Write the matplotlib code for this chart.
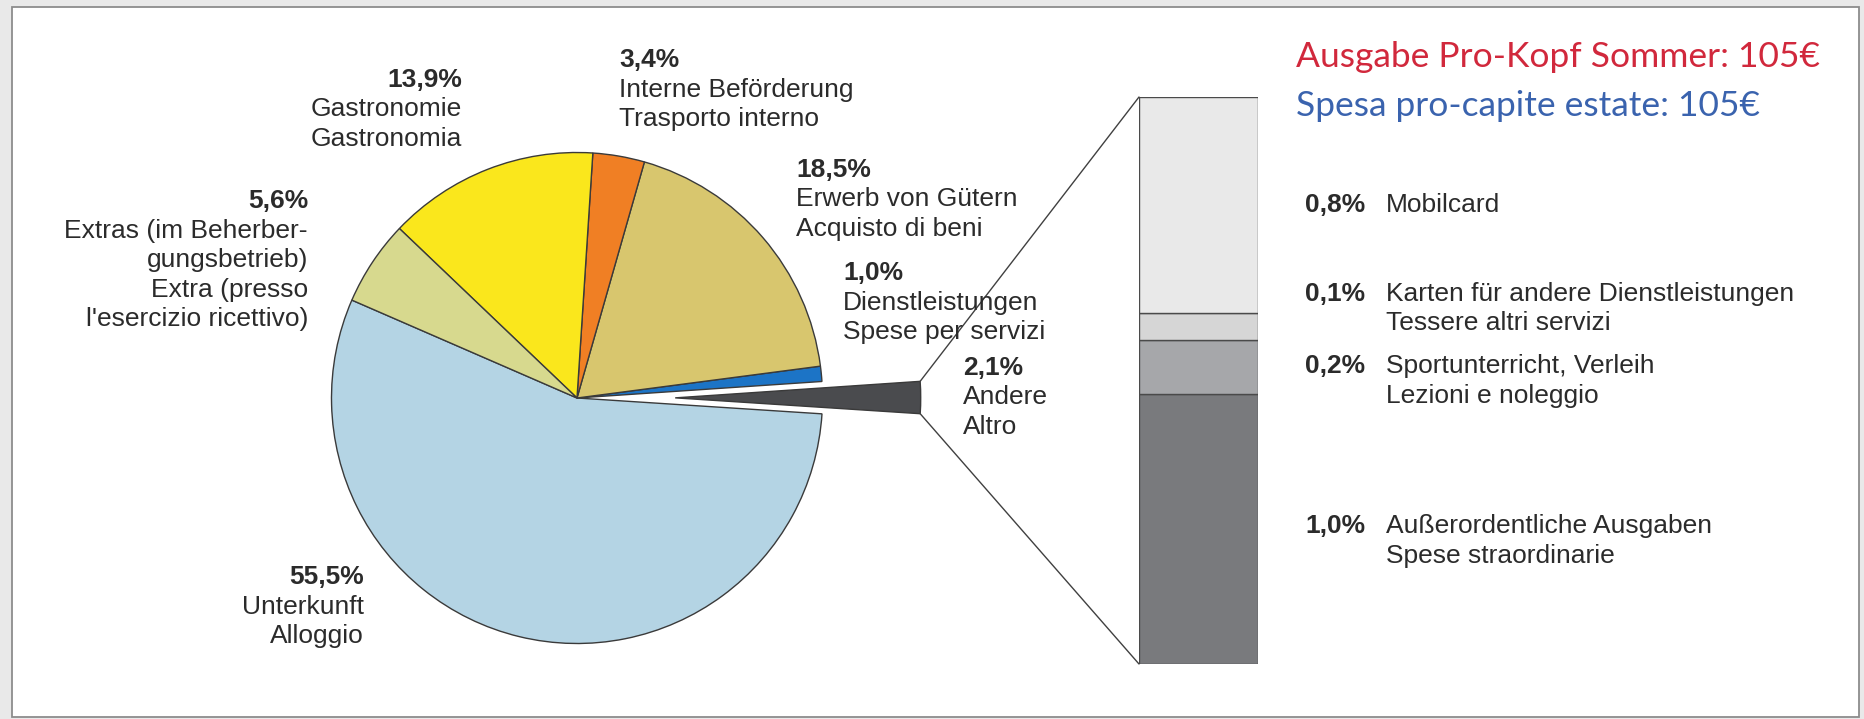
import matplotlib
matplotlib.use("Agg")
import numpy as np
import matplotlib.pyplot as plt
from matplotlib.patches import Rectangle, ConnectionPatch

plt.rcParams["font.family"] = ["Liberation Sans", "DejaVu Sans"]

W, H = 1865, 719
TEXT = "#2b2b2b"

# pie slices, counterclockwise starting with accommodation
pie_de = ["Unterkunft", "Andere", "Dienstleistungen", "Erwerb von Gütern",
          "Interne Beförderung", "Gastronomie", "Extras (im Beherber-\ngungsbetrieb)"]
pie_it = ["Alloggio", "Altro", "Spese per servizi", "Acquisto di beni",
          "Trasporto interno", "Gastronomia", "Extra (presso\nl'esercizio ricettivo)"]
pie_values = [55.5, 2.1, 1.0, 18.5, 3.4, 13.9, 5.6]
pie_colors = ["#b4d4e4", "#4a4b4e", "#1c74c6", "#d8c66e",
              "#f07f24", "#fae71c", "#d7d98e"]

# breakdown of "Andere", stacked bottom to top
other_de = ["Außerordentliche Ausgaben", "Sportunterricht, Verleih",
            "Karten für andere Dienstleistungen", "Mobilcard"]
other_it = ["Spese straordinarie", "Lezioni e noleggio", "Tessere altri servizi", ""]
other_values = [1.0, 0.2, 0.1, 0.8]
other_colors = ["#797a7d", "#a6a7aa", "#d6d6d6", "#e9e9e9"]

title_de = "Ausgabe Pro-Kopf Sommer: 105€"
title_it = "Spesa pro-capite estate: 105€"

# label anchors in pixels from the top-left corner (first line centre)
pie_label_pos = [(364, 577, "right"), (963, 368, "left"), (843, 273, "left"),
                 (796, 170, "left"), (619, 60, "left"), (462, 80, "right"),
                 (308, 201, "right")]
other_label_y = [526, 366, 294, 205]

LINE = 29.5
FS = 19


def fx(x):
    return x / W


def fy(y):
    return 1 - y / H


def pct(v):
    return f"{v:.1f}%".replace(".", ",")


fig = plt.figure(figsize=(W / 100, H / 100), dpi=100)
fig.patch.set_facecolor("#e9e9e9")
fig.add_artist(Rectangle((fx(12), fy(717)), (1859 - 12) / W, (717 - 7) / H,
                         transform=fig.transFigure, facecolor="white",
                         edgecolor="#8c8c8c", linewidth=1.3, zorder=-1))

# pie: 1 data unit == radius in pixels
R, cx, cy = 245.5, 577, 398
ax_pie = fig.add_axes([0, 0, 1, 1])
explode = [0.4 if v == 2.1 else 0 for v in pie_values]
wedges, _ = ax_pie.pie(pie_values, colors=pie_colors, startangle=156.5,
                       counterclock=True, explode=explode,
                       wedgeprops=dict(edgecolor="#3a3a3a", linewidth=1.0))
ax_pie.set_aspect("auto")
ax_pie.set_xlim(-cx / R, (W - cx) / R)
ax_pie.set_ylim((cy - H) / R, cy / R)
ax_pie.axis("off")

# stacked bar for the "Andere" breakdown
bx0, bx1, by0, by1 = 1139, 1258, 97, 664
ax_bar = fig.add_axes([fx(bx0), fy(by1), (bx1 - bx0) / W, (by1 - by0) / H])
bottom = 0
for v, c in zip(other_values, other_colors):
    ax_bar.bar(0, v, bottom=bottom, width=1, color=c,
               edgecolor="#4a4a4a", linewidth=1.0)
    bottom += v
ax_bar.set_xlim(-0.5, 0.5)
ax_bar.set_ylim(0, sum(other_values))
ax_bar.axis("off")

# connector lines from the exploded wedge to the bar
w = wedges[pie_values.index(2.1)]
wc = np.array(w.center)
t1, t2 = np.radians(w.theta1), np.radians(w.theta2)
top = wc + w.r * np.array([np.cos(t2), np.sin(t2)])
bot = wc + w.r * np.array([np.cos(t1), np.sin(t1)])
for a, b in [(top, (-0.5, sum(other_values))), (bot, (-0.5, 0))]:
    con = ConnectionPatch(xyA=a, coordsA=ax_pie.transData, xyB=b,
                          coordsB=ax_bar.transData, color="#404040", linewidth=1.0)
    fig.add_artist(con)


def block(x, y, head, lines, ha):
    fig.text(fx(x), fy(y), head, ha=ha, va="center", fontsize=FS,
             fontweight="bold", color=TEXT)
    for i, line in enumerate(lines):
        fig.text(fx(x), fy(y + LINE * (i + 1)), line, ha=ha, va="center",
                 fontsize=FS, color=TEXT)


for v, de, it, (x, y, ha) in zip(pie_values, pie_de, pie_it, pie_label_pos):
    block(x, y, pct(v), de.split("\n") + it.split("\n"), ha)

for v, de, it, y in zip(other_values, other_de, other_it, other_label_y):
    fig.text(fx(1305), fy(y), pct(v), ha="left", va="center", fontsize=FS,
             fontweight="bold", color=TEXT)
    for i, line in enumerate([s for s in (de, it) if s]):
        fig.text(fx(1386), fy(y + LINE * i), line, ha="left", va="center",
                 fontsize=FS, color=TEXT)

fig.text(fx(1296), fy(57), title_de, ha="left", va="center", fontsize=25.5,
         family="Lato", color="#d1283c")
fig.text(fx(1296), fy(106), title_it, ha="left", va="center", fontsize=25.5,
         family="Lato", color="#3a63ae")

fig.savefig("out.png", dpi=100, facecolor=fig.get_facecolor())
